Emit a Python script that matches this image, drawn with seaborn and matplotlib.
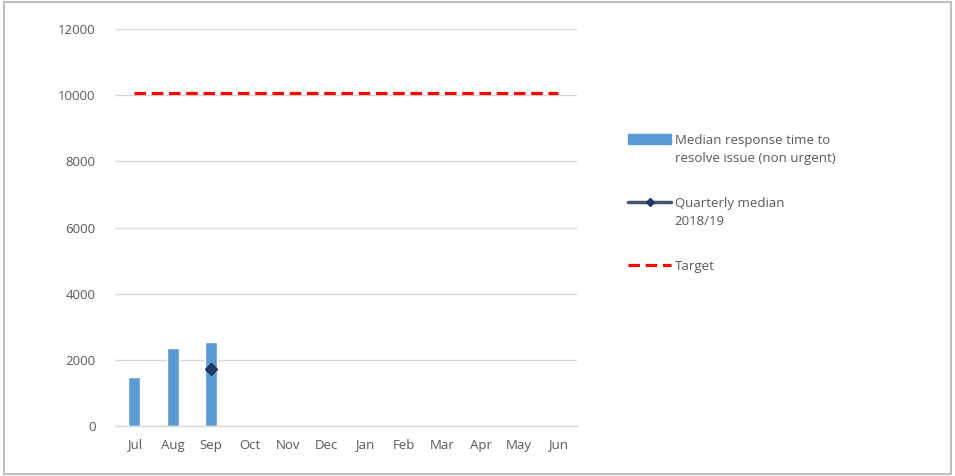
import matplotlib
matplotlib.use("Agg")
import matplotlib.pyplot as plt
from matplotlib.lines import Line2D
from matplotlib.patches import Patch, Rectangle
import seaborn as sns
import pandas as pd
import numpy as np

months = ["Jul", "Aug", "Sep", "Oct", "Nov", "Dec", "Jan", "Feb", "Mar", "Apr", "May", "Jun"]
median_response = [1490, 2350, 2540, None, None, None, None, None, None, None, None, None]
quarterly_median = [None, None, 1720, None, None, None, None, None, None, None, None, None]
target = [10080] * 12
y_ticks = [0, 2000, 4000, 6000, 8000, 10000, 12000]

bar_label = "Median response time to\nresolve issue (non urgent)"
quarter_label = "Quarterly median\n2018/19"
target_label = "Target"

sns.set_theme(style="white")
plt.rcParams["font.family"] = ["Open Sans", "DejaVu Sans"]

df = pd.DataFrame({"month": months,
                   "median": [np.nan if v is None else v for v in median_response],
                   "quarter": [np.nan if v is None else v for v in quarterly_median],
                   "target": target})

fig = plt.figure(figsize=(9.55, 4.76), dpi=100)
ax = fig.add_axes([0.1204, 0.105, 0.4836, 0.834])

bar_color = "#5b9bd5"
sns.barplot(data=df, x="month", y="median", order=months, color=bar_color,
            width=0.32, saturation=1, ax=ax)

target_dash = (0, (3.6, 1.8))
x = np.arange(len(months))
ax.plot(x, df["target"], color="#ff0000", lw=2.3, ls=target_dash, zorder=3)
ax.plot(x, df["quarter"], color="#44546a", lw=2.5, marker="D", markersize=6.5,
        markerfacecolor="#1f3864", markeredgecolor="#1f3864", zorder=4)

ax.set_ylim(0, 12000)
ax.set_xlim(-0.5, 11.5)
ax.set_yticks(y_ticks)
ax.set_yticklabels([str(v) for v in y_ticks])
ax.yaxis.grid(True, color="#d9d9d9", lw=1)
ax.set_axisbelow(True)
for side in ["left", "right", "top"]:
    ax.spines[side].set_visible(False)
ax.spines["bottom"].set_color("#d9d9d9")
ax.spines["bottom"].set_linewidth(1)
ax.tick_params(axis="both", length=0, labelsize=9.5, colors="#595959")
ax.tick_params(axis="y", pad=14)
ax.tick_params(axis="x", pad=9)
ax.set_xlabel("")
ax.set_ylabel("")

handles = [
    Patch(facecolor=bar_color, edgecolor=bar_color),
    Line2D([0], [0], color="#44546a", lw=2.5, marker="D", markersize=4,
           markerfacecolor="#1f3864", markeredgecolor="#1f3864"),
    Line2D([0], [0], color="#ff0000", lw=2.3, ls=target_dash),
]
leg = fig.legend(handles, [bar_label, quarter_label, target_label],
                 loc="upper left", bbox_to_anchor=(0.652, 0.729), frameon=False,
                 fontsize=9.5, labelcolor="#595959", handlelength=3.3,
                 handleheight=0.75, handletextpad=0.25, labelspacing=2.45,
                 borderaxespad=0)
for t in leg.get_texts():
    t.set_linespacing(1.45)
# keep each legend key level with the first line of its label
for column in leg._legend_handle_box.get_children():
    for row in column.get_children():
        row.align = "top"

fig.patches.append(Rectangle((0.004, 0.005), 0.992, 0.99, transform=fig.transFigure,
                             fill=False, edgecolor="#bfbfbf", lw=1.5))

fig.savefig("out.png", dpi=100)
